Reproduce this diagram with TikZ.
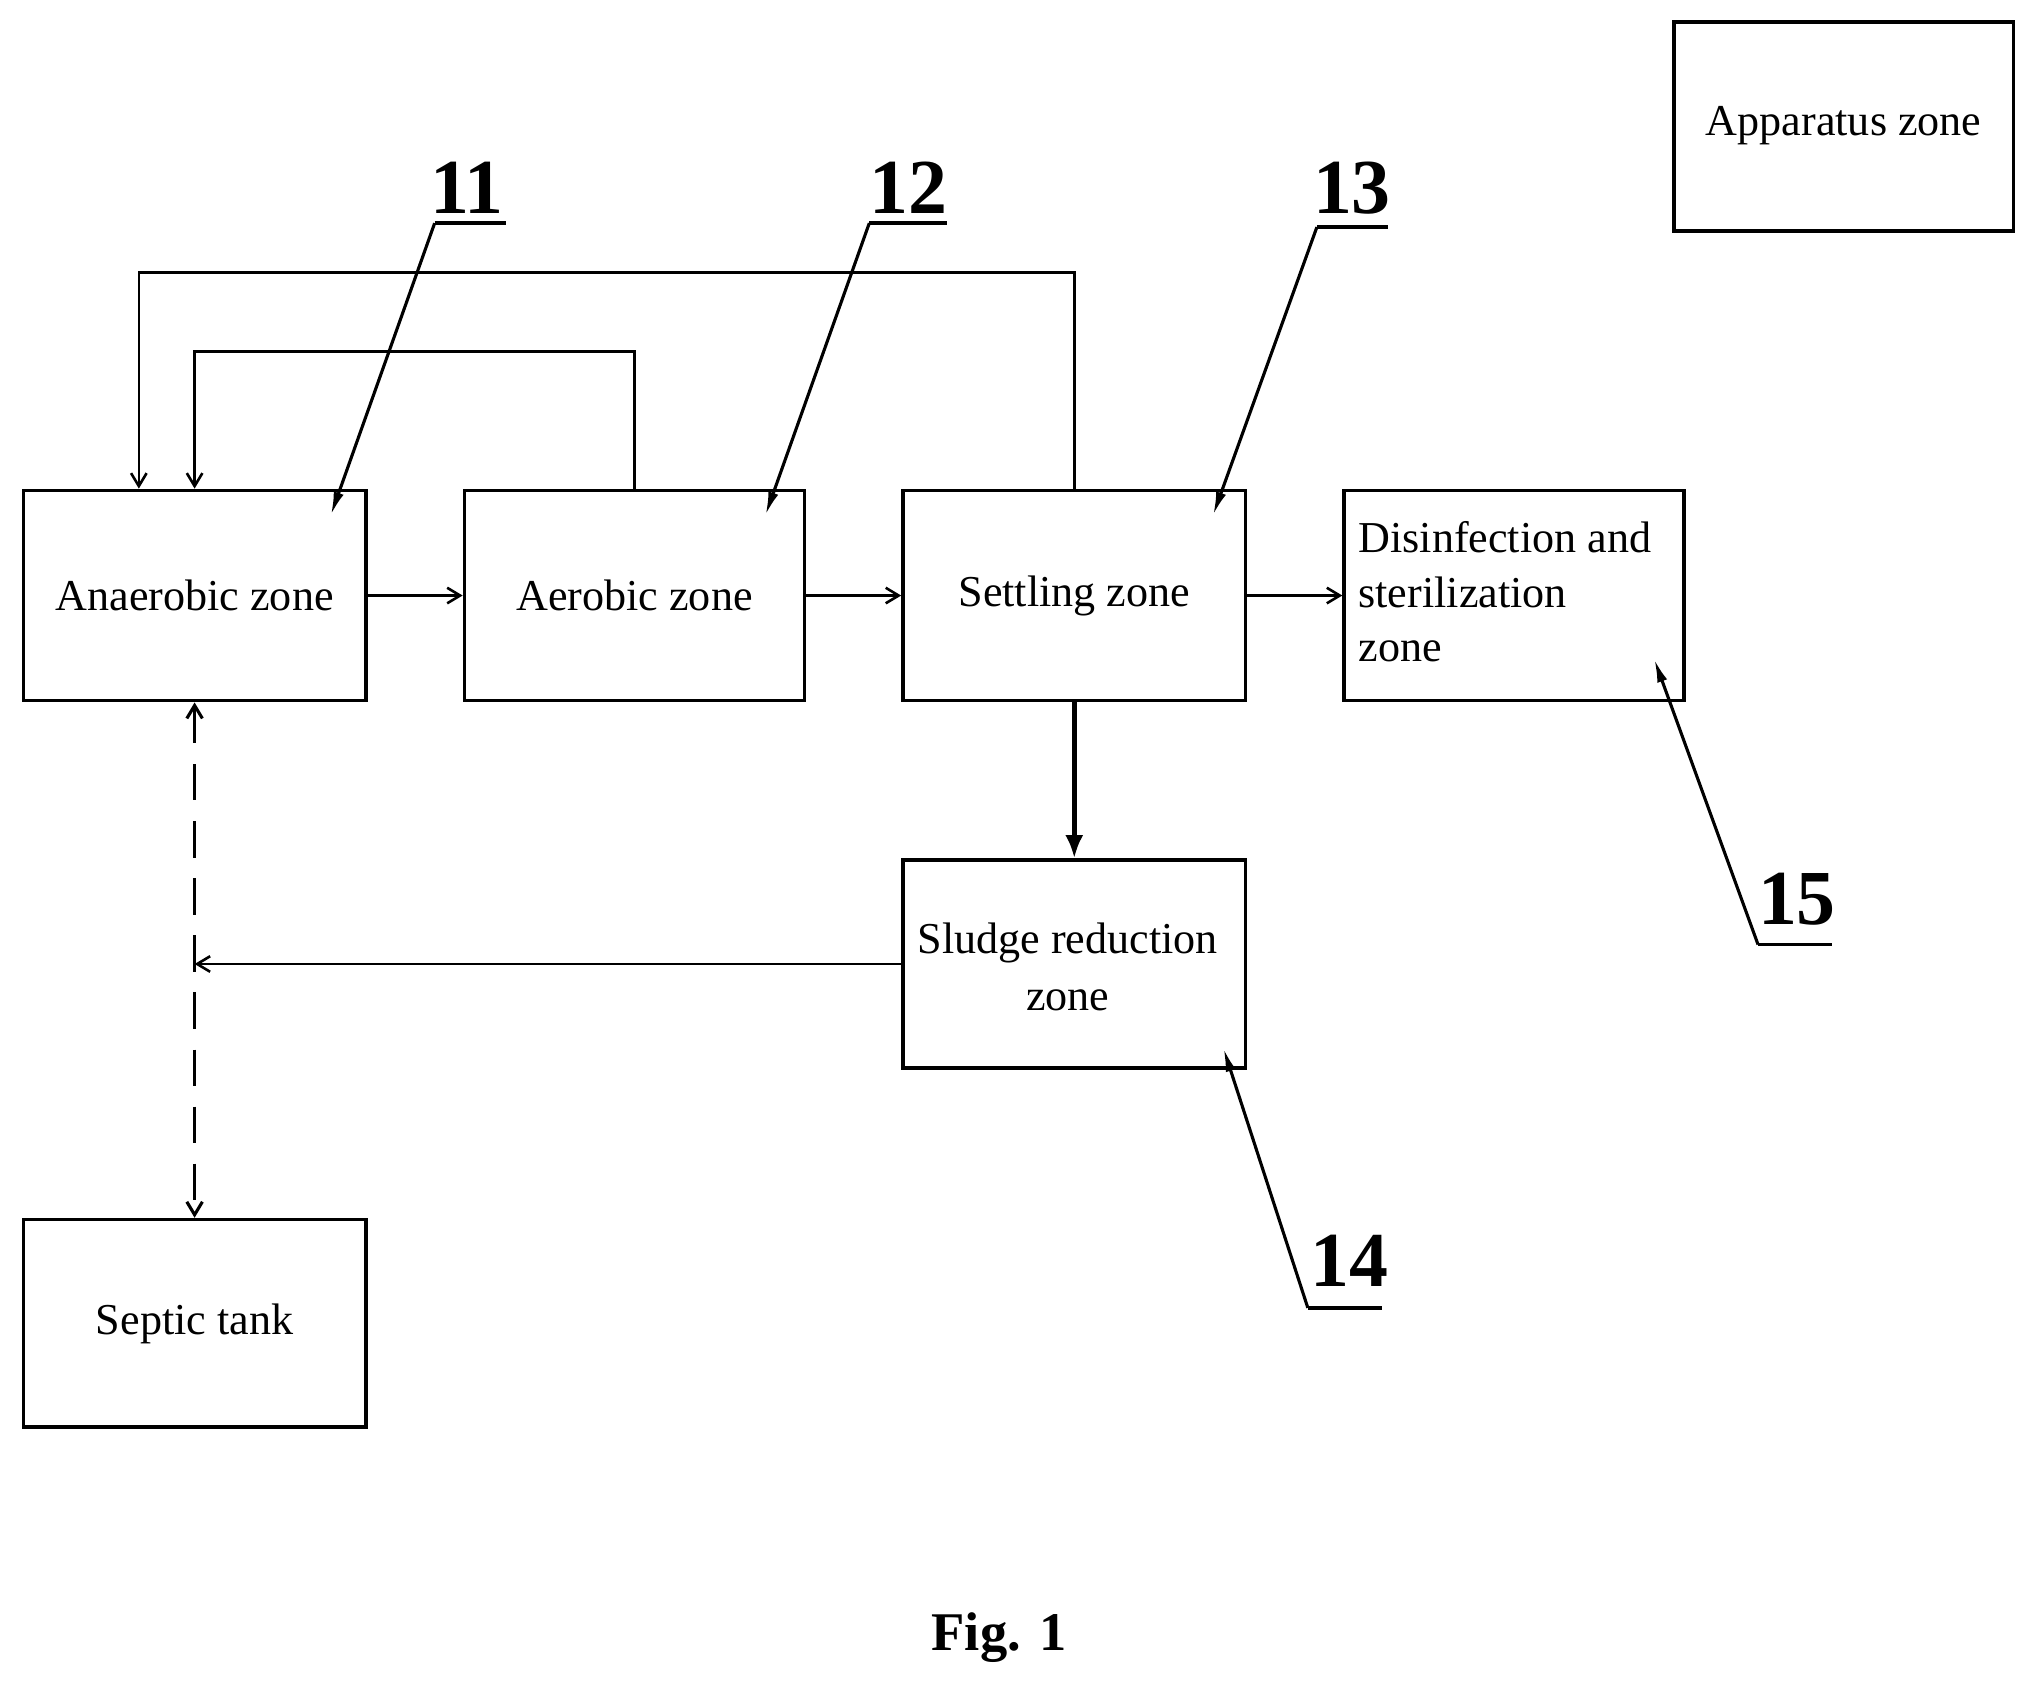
\documentclass[tikz,border=0pt]{standalone}
\usepackage{fontspec}
\setmainfont{Liberation Serif}
\usetikzlibrary{arrows.meta}
\begin{document}
\begin{tikzpicture}[x=0.5pt,y=-0.5pt,
  box/.style={draw,line width=1.4pt,inner sep=0pt},
  lbl/.style={font=\fontsize{17}{19}\selectfont},
  num/.style={font=\fontsize{30}{32}\selectfont\bfseries},
  flow/.style={line width=1pt,-{Straight Barb[length=5pt,width=6pt]}},
  lead/.style={line width=1.2pt,-{Latex[length=9pt,width=4pt]}},
  ul/.style={line width=1.4pt}]
\useasboundingbox (0,0) rectangle (1560,1297);
\node[box,minimum width=131pt,minimum height=80.5pt] (app) at (1421,97.5) {};
\node[lbl] (appt) at (1421,97) {Apparatus zone};
\node[box,minimum width=132pt,minimum height=81pt] (an) at (150,459) {};
\node[lbl] at (an.center) {Anaerobic zone};
\node[box,minimum width=131pt,minimum height=81pt] (ae) at (489,459) {};
\node[lbl] at (ae.center) {Aerobic zone};
\node[box,minimum width=132pt,minimum height=81pt] (se) at (828,459) {};
\node[lbl] at (se.center) {Settling zone};
\node[box,minimum width=131pt,minimum height=81pt] (di) at (1167,459) {};
\node[lbl,align=left,anchor=north west] (dit) at (1040,395) {Disinfection and\\[2pt]sterilization\\[2pt]zone};
\node[box,minimum width=132pt,minimum height=80pt] (sl) at (828,743) {};
\node[lbl,align=center] (slt) at (823,745) {Sludge reduction\\[3pt]zone};
\node[box,minimum width=132pt,minimum height=80pt] (sp) at (150,1020) {};
\node[lbl] at (sp.center) {Septic tank};
\node[font=\fontsize{21}{23}\selectfont\bfseries] (fig) at (770,1262) {Fig. 1};

\draw[flow] (an.east) -- (ae.west);
\draw[flow] (ae.east) -- (se.west);
\draw[flow] (se.east) -- (di.west);
\draw[flow] (se.north -| 828,0) -- (828,210) -- (107,210) -- (an.north -| 107,0);
\draw[flow] (ae.north) -- (489,271) -- (150,271) -- (an.north);
\draw[line width=2pt,-{Latex[length=9pt,width=7pt]}] (se.south) -- (sl.north);
\coordinate (j) at (150,743);
\draw[flow] (sl.west) -- (j);
\draw[line width=1.2pt,dash pattern=on 14pt off 8pt,{Straight Barb[length=5pt,width=6pt]}-{Straight Barb[length=5pt,width=6pt]}] (an.south) -- (sp.north);

\node[num] (n11) at (360,145) {11};
\draw[ul] (335,172) -- (390,172);
\draw[lead] (335,172) -- (255,397);
\node[num] (n12) at (700,145) {12};
\draw[ul] (670,172) -- (730,172);
\draw[lead] (670,172) -- (590,397);
\node[num] (n13) at (1042,145) {13};
\draw[ul] (1015,175) -- (1070,175);
\draw[lead] (1015,175) -- (935,397);
\node[num] (n15) at (1385,693) {15};
\draw[ul] (1355,728) -- (1412,728);
\draw[lead] (1355,728) -- (1275,508);
\node[num] (n14) at (1040,972) {14};
\draw[ul] (1008,1008) -- (1065,1008);
\draw[lead] (1008,1008) -- (943,808);
\end{tikzpicture}
\end{document}
